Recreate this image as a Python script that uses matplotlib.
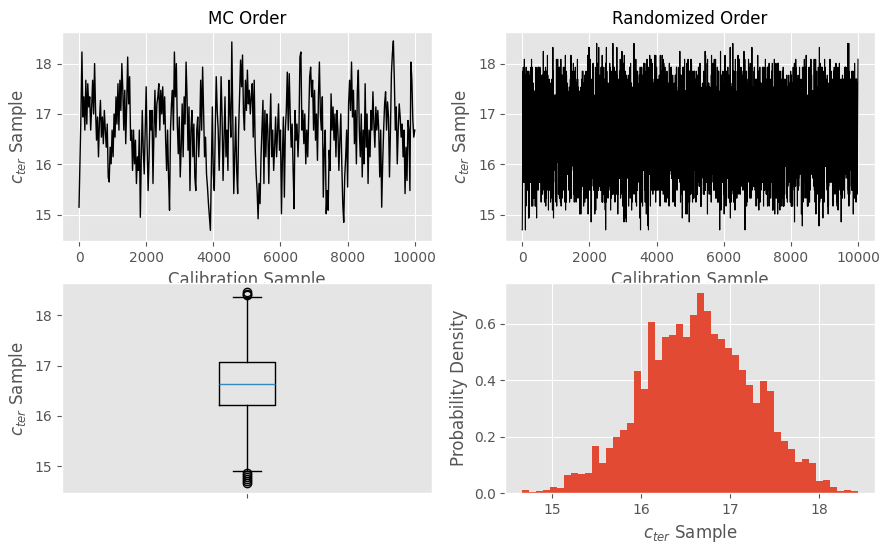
import matplotlib
matplotlib.use("Agg")
import matplotlib.pyplot as plt
import numpy as np


# c_ter trace in MC order (~1 value per pixel column)
mc_order = [
    15.15, 16.08, 17.0, 18.23, 16.94, 17.34, 16.68, 17.67, 16.8, 17.6, 17.14, 17.34, 16.68, 17.14,
    17.67, 17.0, 18.0, 17.07, 16.48, 16.94, 16.15, 16.87, 17.27, 16.54, 16.94, 16.41, 17.07, 16.68,
    16.34, 16.8, 15.75, 15.65, 16.34, 16.01, 16.68, 16.15, 17.0, 16.54, 17.34, 16.8, 17.6, 16.68,
    17.67, 17.07, 18.0, 17.47, 16.68, 17.47, 16.41, 17.2, 18.13, 17.2, 17.74, 16.48, 16.68, 15.88,
    16.68, 16.01, 16.48, 15.62, 16.15, 15.88, 16.68, 14.95, 16.15, 17.07, 16.28, 15.81, 16.68, 17.54,
    16.34, 15.48, 16.15, 17.07, 16.68, 17.07, 15.62, 16.68, 17.47, 16.54, 17.2, 17.34, 17.6, 16.68,
    17.47, 17.0, 17.54, 16.8,
    17.34, 16.48, 15.88, 16.68, 15.75, 15.09, 16.68, 17.2, 17.47, 16.68, 18.23, 17.34, 18.0, 16.8,
    16.21, 16.94, 15.75, 16.34, 17.2, 16.15, 17.34, 16.8, 18.03, 17.34, 16.28, 17.14, 15.48, 16.68,
    17.07, 16.15, 16.8, 15.75, 15.48, 16.68, 16.94, 16.15, 16.68, 17.67, 16.68, 17.93, 17.07, 16.15,
    16.54, 15.81, 15.55, 15.22, 14.95, 14.69, 15.88, 17.14, 15.81, 15.48, 16.68, 17.74, 17.07, 16.68,
    15.88, 16.68, 17.74, 16.94, 15.68, 16.54, 17.34, 16.15, 16.68, 15.88, 17.67, 17.07, 16.54, 18.43,
    16.94, 15.42, 16.15, 16.94, 15.88, 15.42, 16.68, 17.34, 18.07, 17.54, 18.17, 17.0, 16.68, 17.67,
    17.07, 17.87, 17.2, 17.47, 17.0, 17.34, 17.6,
    16.54, 17.67, 16.34, 15.81, 15.48, 14.92, 15.62, 15.22, 16.15, 16.68, 17.27, 15.62, 17.07, 16.15,
    17.0, 16.68, 15.62, 16.68, 17.4, 16.15, 16.68, 15.88, 16.34, 16.94, 16.15, 16.68, 17.2, 16.28,
    16.68, 15.02, 16.15, 16.94, 15.35, 16.68, 17.07, 17.83, 16.68, 17.8, 17.0, 16.34, 16.8, 15.88,
    15.12, 17.07, 16.48, 16.8, 16.15, 16.68, 18.13, 18.23, 16.68, 17.07, 16.41, 17.0, 16.01, 16.68,
    16.15, 16.94, 17.74, 17.93, 17.34, 17.67, 16.68, 17.47, 16.48, 17.0, 16.08, 17.34, 18.03, 17.0,
    16.68, 17.34, 15.35, 16.28, 16.68, 15.02, 15.48, 15.09, 16.28, 15.88, 17.4, 16.68, 17.14, 16.48,
    17.0, 16.15, 17.07, 16.68, 15.88, 16.48,
    17.0, 16.01, 15.22, 14.85, 15.75, 16.15, 16.68, 15.55, 17.2, 17.67, 17.07, 18.03, 16.94, 17.47,
    16.41, 17.07, 16.01, 17.47, 17.87, 16.68, 16.15, 17.0, 15.75, 16.68, 16.01, 17.6, 16.34, 17.0,
    15.62, 16.68, 16.15, 17.07, 16.68, 17.44, 16.8, 16.34, 17.14, 16.68, 17.07, 16.68, 15.75, 16.68,
    15.15, 16.01, 16.68, 17.2, 17.44, 16.68, 17.24, 16.94, 15.75, 16.68, 17.8, 18.2, 18.45, 17.67,
    16.68, 17.14, 16.01, 16.68, 17.2, 16.94, 16.54, 16.8, 16.15, 16.68, 15.42, 16.34, 15.68, 16.87,
    16.68, 15.48, 18.03, 17.67, 16.87, 16.54, 16.68,
]
n_samples = 10000

# histogram of c_ter (probability density per bin)
hist_lo, hist_hi = 14.66, 18.44
hist_density = [
    0.011, 0.004, 0.007, 0.011, 0.021, 0.018, 0.064, 0.071, 0.069, 0.071, 0.165, 0.107,
    0.160, 0.199, 0.224, 0.249, 0.433, 0.367, 0.604, 0.472, 0.551, 0.561, 0.598, 0.554,
    0.630, 0.707, 0.643, 0.562, 0.544, 0.515, 0.487, 0.435, 0.384, 0.320, 0.398, 0.362,
    0.217, 0.185, 0.155, 0.110, 0.120, 0.105, 0.043, 0.046, 0.021, 0.007, 0.011, 0.007,
]

# box plot statistics
box_med, box_q1, box_q3 = 16.64, 16.21, 17.07
box_whislo, box_whishi = 14.90, 18.36
box_fliers = [18.40, 18.42, 18.45, 14.86, 14.82, 14.78, 14.74, 14.70, 14.66]


def scramble(values):
    # deterministic reorder: i -> i**3 mod p is a permutation of 0..p-1 for this prime
    p = 10007
    idx = np.arange(p, dtype=np.int64)
    perm = (idx * idx % p) * idx % p
    perm = perm[perm < len(values)]
    return values[perm]


def main():
    plt.style.use("ggplot")

    edges = np.linspace(hist_lo, hist_hi, len(hist_density) + 1)
    centers = 0.5 * (edges[:-1] + edges[1:])
    width = edges[1] - edges[0]

    # same samples, rebuilt from the histogram, shown in a scrambled order
    counts = np.round(np.array(hist_density) * width * n_samples).astype(int)
    pooled = np.repeat(centers, counts)
    shuffled = scramble(pooled)

    fig, axes = plt.subplots(2, 2, figsize=(8.89, 5.49), dpi=100)
    fig.subplots_adjust(left=0.07, right=0.984, top=0.942, bottom=0.102,
                        hspace=0.2, wspace=0.2)

    ylab = "$c_{ter}$ Sample"
    ylim = (14.47, 18.63)

    ax = axes[0, 0]
    x_mc = np.linspace(0, n_samples - 1, len(mc_order))
    ax.plot(x_mc, mc_order, color="k", lw=1.0)
    ax.set_title("MC Order", fontsize=12)
    ax.set_xlabel("Calibration Sample")
    ax.set_ylabel(ylab)
    ax.set_ylim(ylim)
    ax.set_yticks([15, 16, 17, 18])

    ax = axes[0, 1]
    x_rand = np.linspace(0, n_samples - 1, len(shuffled))
    ax.plot(x_rand, shuffled, color="k", lw=0.8)
    ax.set_title("Randomized Order", fontsize=12)
    ax.set_xlabel("Calibration Sample")
    ax.set_ylabel(ylab)
    ax.set_ylim(ylim)
    ax.set_yticks([15, 16, 17, 18])

    ax = axes[1, 0]
    stats = [{
        "med": box_med, "q1": box_q1, "q3": box_q3,
        "whislo": box_whislo, "whishi": box_whishi,
        "fliers": box_fliers, "label": "",
    }]
    ax.bxp(stats, positions=[1], widths=0.15)
    ax.grid(False)
    ax.set_xlim(0.5, 1.5)
    ax.set_ylim(ylim)
    ax.set_yticks([15, 16, 17, 18])
    ax.set_ylabel(ylab)

    ax = axes[1, 1]
    ax.hist(centers, bins=edges, weights=hist_density)
    ax.set_xlabel(ylab)
    ax.set_ylabel("Probability Density")
    ax.set_xticks([15, 16, 17, 18])

    fig.savefig("out.png", dpi=100)


main()
